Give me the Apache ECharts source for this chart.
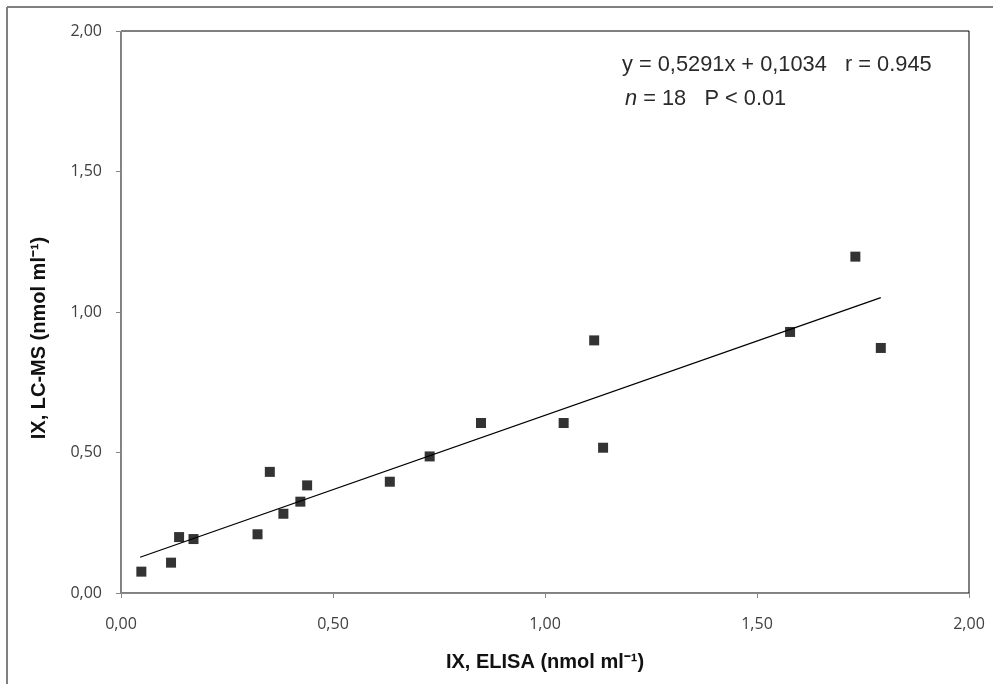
<!DOCTYPE html>
<html>
<head>
<meta charset="utf-8">
<script src="https://cdn.jsdelivr.net/npm/echarts@6/dist/echarts.min.js"></script>
<style>
html,body{margin:0;padding:0;background:#fff;}
#chart{width:996px;height:684px;}
</style>
</head>
<body>
<div id="chart"></div>
<script>
// Data
const elisa = [0.048, 0.118, 0.137, 0.171, 0.322, 0.351, 0.383, 0.423, 0.439, 0.634, 0.728, 0.849, 1.044, 1.116, 1.137, 1.578, 1.732, 1.792];
const lcms  = [0.076, 0.108, 0.199, 0.192, 0.209, 0.431, 0.282, 0.325, 0.383, 0.396, 0.486, 0.605, 0.605, 0.899, 0.517, 0.929, 1.197, 0.872];
const slope = 0.5291;
const intercept = 0.1034;
const fitX = [0.045, 1.792];
const xName = 'IX, ELISA (nmol ml\u207B\u00B9)';
const yName = 'IX, LC-MS (nmol ml\u207B\u00B9)';
const eqText = 'y = 0,5291x + 0,1034   r = 0.945';
const statText = '{i|n} = 18   P < 0.01';

const points = elisa.map((x, i) => [x, lcms[i]]);
const fitLine = fitX.map(x => [x, slope * x + intercept]);
const fmt = v => v.toFixed(2).replace('.', ',');

const chart = echarts.init(document.getElementById('chart'), null, {renderer: 'canvas'});
const tickFont = {fontFamily: 'Open Sans', fontSize: 16, color: '#404040'};
chart.setOption({
  animation: false,
  backgroundColor: '#fff',
  grid: {left: 121, top: 31, right: 27, bottom: 91, show: true, borderColor: '#000', borderWidth: 1, backgroundColor: '#fff'},
  xAxis: {
    type: 'value', min: 0, max: 2, interval: 0.5,
    axisLine: {show: true, onZero: false, lineStyle: {color: '#888', width: 1}},
    axisTick: {show: true, length: 5, lineStyle: {color: '#888'}},
    splitLine: {show: false},
    axisLabel: Object.assign({margin: 23, formatter: v => fmt(v)}, tickFont),
    name: xName, nameLocation: 'middle', nameGap: 59,
    nameTextStyle: {fontFamily: 'Liberation Sans', fontWeight: 'bold', fontSize: 20, color: '#111'}
  },
  yAxis: {
    type: 'value', min: 0, max: 2, interval: 0.5,
    axisLine: {show: true, onZero: false, lineStyle: {color: '#888', width: 1}},
    axisTick: {show: true, length: 5, lineStyle: {color: '#888'}},
    splitLine: {show: false},
    axisLabel: Object.assign({margin: 19, formatter: v => fmt(v)}, tickFont)
  },
  graphic: [
    {type: 'text', x: 39, y: 338, rotation: Math.PI / 2,
     style: {text: yName, fontFamily: 'Liberation Sans', fontWeight: 'bold', fontSize: 20, fill: '#111', align: 'center', verticalAlign: 'middle'}},
    {type: 'text', x: 622, y: 65,
     style: {text: eqText, fontFamily: 'Liberation Sans', fontSize: 21.8, fill: '#2a2a2a', verticalAlign: 'middle'}},
    {type: 'text', x: 625, y: 99,
     style: {text: statText, fontFamily: 'Liberation Sans', fontSize: 21.8, fill: '#2a2a2a', verticalAlign: 'middle',
       rich: {i: {fontFamily: 'Liberation Sans', fontStyle: 'italic', fontSize: 21.8, fill: '#2a2a2a'}}}},
    {type: 'line', shape: {x1: 7, y1: 7, x2: 993, y2: 7}, style: {stroke: '#808080', lineWidth: 2}},
    {type: 'line', shape: {x1: 7, y1: 7, x2: 7, y2: 684}, style: {stroke: '#808080', lineWidth: 2}}
  ],
  series: [
    {type: 'line', data: fitLine, symbol: 'none', lineStyle: {color: '#000', width: 1.3}, z: 2},
    {type: 'scatter', data: points, symbol: 'rect', symbolSize: 10, itemStyle: {color: '#000'}, z: 3}
  ]
});
</script>
</body>
</html>
